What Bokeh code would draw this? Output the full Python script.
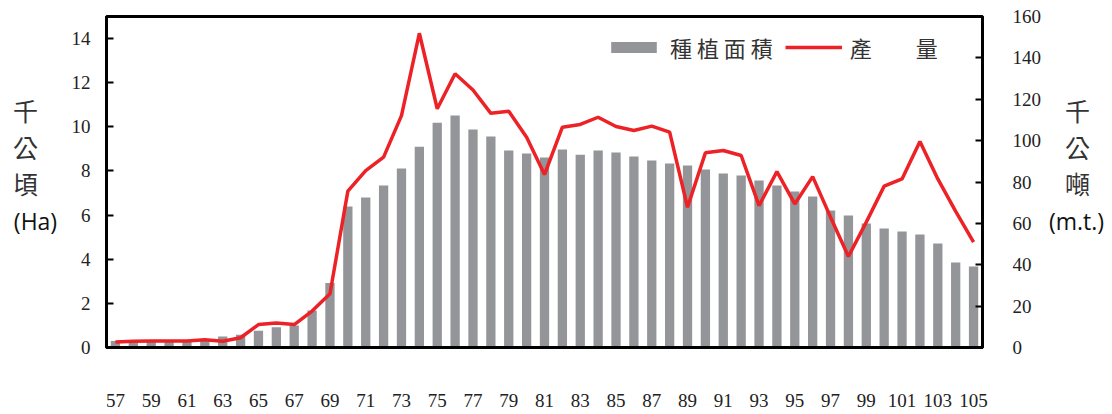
from bokeh.plotting import figure
from bokeh.models import (Range1d, LinearAxis, FixedTicker, Legend, LegendItem)
from bokeh.layouts import row
from bokeh.core.properties import value
from bokeh.embed import file_html
from bokeh.resources import INLINE

years = list(range(57, 106))
area = [0.3, 0.3, 0.3, 0.3, 0.3, 0.35, 0.5, 0.58, 0.76, 0.92,
        1.0, 1.68, 2.92, 6.39, 6.8, 7.34, 8.11, 9.1, 10.19, 10.51,
        9.88, 9.56, 8.93, 8.79, 8.61, 8.97, 8.74, 8.93, 8.84, 8.65,
        8.47, 8.34, 8.25, 8.07, 7.88, 7.79, 7.57, 7.34, 7.07, 6.84,
        6.21, 5.98, 5.62, 5.39, 5.26, 5.12, 4.71, 3.85, 3.67]
production = [2.6, 3.0, 3.1, 3.1, 3.2, 3.7, 3.0, 4.7, 11.1, 11.8,
              11.1, 17.6, 26.0, 75.6, 85.5, 92.0, 112.1, 151.9, 115.4, 132.3,
              124.5, 113.2, 114.2, 101.6, 83.6, 106.5, 107.8, 111.3, 106.8, 104.9,
              107.0, 104.1, 67.8, 94.1, 95.2, 92.8, 68.6, 85.0, 69.4, 82.6,
              63.0, 44.0, 60.6, 78.0, 81.5, 99.6, 81.5, 65.8, 50.9]
x_ticks = list(range(57, 106, 2))
left_ticks = [0, 2, 4, 6, 8, 10, 12, 14]
right_ticks = [0, 20, 40, 60, 80, 100, 120, 140, 160]
legend_labels = ["種 植 面 積", "產　　量"]
left_title = ["千", "公", "頃", "(Ha)"]
right_title = ["千", "公", "噸", "(m.t.)"]

BAR = "#939598"
RED = "#EC2227"
NUM_FONT = "Liberation Serif"
CJK = "Noto Sans CJK TC"
H = 412
FRAME_TOP, FRAME_BOTTOM = 16, 347

p = figure(width=982, height=H, output_backend="svg", toolbar_location=None,
           x_range=Range1d(56.5, 105.5), y_range=Range1d(0, 15),
           min_border_left=44, min_border_right=58, min_border_top=FRAME_TOP,
           min_border_bottom=H - FRAME_BOTTOM)
p.extra_y_ranges = {"prod": Range1d(0, 160)}
p.xgrid.visible = False
p.ygrid.visible = False
p.outline_line_color = "black"
p.outline_line_width = 3

bars = p.vbar(x=years, top=area, width=0.52, bottom=0, fill_color=BAR, line_color=None)
line = p.line(years, production, y_range_name="prod", line_color=RED, line_width=3.5)

xa = p.xaxis[0]
xa.ticker = FixedTicker(ticks=x_ticks)
xa.major_tick_in = 0
xa.major_tick_out = 0
xa.minor_tick_line_color = None
xa.axis_line_width = 3
xa.major_label_standoff = 46
xa.major_label_text_font = NUM_FONT
xa.major_label_text_font_size = "19px"
xa.major_label_text_color = "#222222"

ya = p.yaxis[0]
ya.ticker = FixedTicker(ticks=left_ticks)
ya.major_tick_in = 7
ya.major_tick_out = 0
ya.minor_tick_line_color = None
ya.axis_line_width = 3
ya.major_tick_line_width = 2
ya.major_label_standoff = 16
ya.major_label_text_font = NUM_FONT
ya.major_label_text_font_size = "19px"
ya.major_label_text_color = "#222222"

ra = LinearAxis(y_range_name="prod", ticker=FixedTicker(ticks=right_ticks))
ra.major_tick_in = 7
ra.major_tick_out = 0
ra.minor_tick_line_color = None
ra.axis_line_width = 3
ra.major_tick_line_width = 2
ra.major_label_standoff = 30
ra.major_label_text_font = NUM_FONT
ra.major_label_text_font_size = "19px"
ra.major_label_text_color = "#222222"
p.add_layout(ra, "right")

legend = Legend(items=[LegendItem(label=legend_labels[0], renderers=[bars]),
                       LegendItem(label=legend_labels[1], renderers=[line])],
                location=(499, 284), orientation="horizontal",
                glyph_width=57, glyph_height=14, label_standoff=8, spacing=12,
                padding=0, margin=0, border_line_color=None, background_fill_alpha=0,
                label_text_font=CJK, label_text_font_size="22px", label_text_color="#333333")
p.add_layout(legend)


def side(width, chars, xc, xl):
    f = figure(width=width, height=H, output_backend="svg", toolbar_location=None,
               x_range=Range1d(0, width), y_range=Range1d(FRAME_BOTTOM, FRAME_TOP),
               min_border=0, outline_line_color=None)
    f.axis.visible = False
    f.grid.visible = False
    f.text(x=[xc] * 3, y=[109, 146, 182], text=chars[:3], text_align="center",
           text_baseline="middle", text_font=value(CJK), text_font_size="25px",
           text_color="#333333")
    f.text(x=[xl], y=[220], text=[chars[3]], text_align="center", text_baseline="middle",
           text_font=value("Open Sans"), text_font_size="23px", text_color="#111111")
    return f

left = side(62, left_title, 25, 35)
right = side(66, right_title, 33, 32)

layout = row(left, p, right, spacing=0)
open("out.html", "w").write(file_html(layout, INLINE))
